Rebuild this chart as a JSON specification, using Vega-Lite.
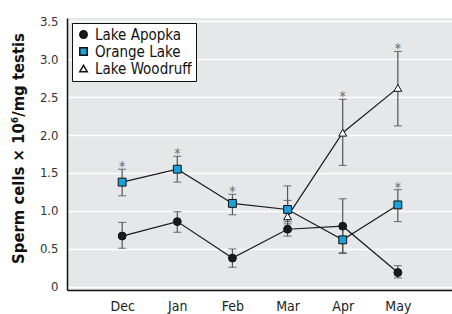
{
  "$schema": "https://vega.github.io/schema/vega-lite/v6.json",
  "autosize": {"type": "none"},
  "padding": {"left": 67, "top": 18, "right": 0, "bottom": 24},
  "width": 386,
  "height": 272,
  "config": {
    "view": {"fill": "#e6e7e8", "stroke": null},
    "font": "Liberation Sans Narrow, DejaVu Sans Condensed, sans-serif",
    "axisY": {
      "titleFontSize": 16.5, "titleFontWeight": "bold", "titleColor": "#111", "titlePadding": 13,
      "titleY": 130,
      "labelOverlap": false, "labelFontSize": 13, "labelColor": "#333", "labelPadding": 9,
      "ticks": false, "tickSize": 0,
      "domainColor": "#111", "domainWidth": 1.5,
      "gridColor": "white", "gridWidth": 1.5
    }
  },
  "data": {
    "values": [
      {"lake": "Lake Apopka", "month": "Dec", "mean": 0.67, "lo": 0.51, "hi": 0.85, "sig": false},
      {"lake": "Lake Apopka", "month": "Jan", "mean": 0.86, "lo": 0.72, "hi": 0.99, "sig": false},
      {"lake": "Lake Apopka", "month": "Feb", "mean": 0.38, "lo": 0.26, "hi": 0.50, "sig": false},
      {"lake": "Lake Apopka", "month": "Mar", "mean": 0.76, "lo": 0.67, "hi": 0.83, "sig": false},
      {"lake": "Lake Apopka", "month": "Apr", "mean": 0.80, "lo": 0.45, "hi": 1.16, "sig": false},
      {"lake": "Lake Apopka", "month": "May", "mean": 0.19, "lo": 0.12, "hi": 0.28, "sig": false},
      {"lake": "Orange Lake", "month": "Dec", "mean": 1.38, "lo": 1.20, "hi": 1.55, "sig": true},
      {"lake": "Orange Lake", "month": "Jan", "mean": 1.55, "lo": 1.38, "hi": 1.72, "sig": true},
      {"lake": "Orange Lake", "month": "Feb", "mean": 1.10, "lo": 0.95, "hi": 1.22, "sig": true},
      {"lake": "Orange Lake", "month": "Mar", "mean": 1.02, "lo": 0.73, "hi": 1.33, "sig": false},
      {"lake": "Orange Lake", "month": "Apr", "mean": 0.62, "lo": 0.44, "hi": 0.80, "sig": false},
      {"lake": "Orange Lake", "month": "May", "mean": 1.08, "lo": 0.86, "hi": 1.28, "sig": true},
      {"lake": "Lake Woodruff", "month": "Mar", "mean": 0.93, "lo": 0.86, "hi": 1.14, "sig": false},
      {"lake": "Lake Woodruff", "month": "Apr", "mean": 2.03, "lo": 1.60, "hi": 2.47, "sig": true},
      {"lake": "Lake Woodruff", "month": "May", "mean": 2.62, "lo": 2.12, "hi": 3.10, "sig": true}
    ]
  },
  "encoding": {
    "x": {
      "field": "month", "type": "ordinal",
      "scale": {"type": "point", "domain": ["Dec", "Jan", "Feb", "Mar", "Apr", "May"], "padding": 1},
      "axis": {
        "title": null, "labelAngle": 0, "ticks": false, "tickSize": 0, "labelPadding": 9,
        "labelFontSize": 14, "labelColor": "#222", "domainColor": "#111", "domainWidth": 1.5, "grid": false
      }
    }
  },
  "layer": [
    {
      "mark": {"type": "line", "color": "#1a1a1a", "strokeWidth": 1.2},
      "encoding": {
        "y": {
          "field": "mean", "type": "quantitative",
          "scale": {"domain": [-0.04, 3.54], "nice": false, "zero": false},
          "axis": {
            "title": "Sperm cells × 10⁶/mg testis",
            "values": [0, 0.5, 1, 1.5, 2, 2.5, 3, 3.5],
            "labelExpr": "datum.value == 0 ? '0' : format(datum.value, '.1f')"
          }
        },
        "detail": {"field": "lake"}
      }
    },
    {
      "mark": {"type": "errorbar", "ticks": {"size": 8, "color": "#333", "strokeWidth": 1.3}, "rule": {"color": "#555", "strokeWidth": 1.2}},
      "encoding": {
        "y": {
          "field": "lo", "type": "quantitative",
          "axis": {
            "title": "Sperm cells × 10⁶/mg testis",
            "values": [0, 0.5, 1, 1.5, 2, 2.5, 3, 3.5],
            "labelExpr": "datum.value == 0 ? '0' : format(datum.value, '.1f')"
          }
        },
        "y2": {"field": "hi"}
      }
    },
    {
      "mark": {"type": "point", "filled": true, "stroke": "#111", "strokeWidth": 1, "opacity": 1},
      "encoding": {
        "y": {
          "field": "mean", "type": "quantitative",
          "axis": {
            "title": "Sperm cells × 10⁶/mg testis",
            "values": [0, 0.5, 1, 1.5, 2, 2.5, 3, 3.5],
            "labelExpr": "datum.value == 0 ? '0' : format(datum.value, '.1f')"
          }
        },
        "shape": {
          "field": "lake", "type": "nominal",
          "scale": {"domain": ["Lake Apopka", "Orange Lake", "Lake Woodruff"], "range": ["circle", "square", "triangle-up"]},
          "legend": {
            "title": null, "orient": "top-left", "offset": 5, "padding": 4,
            "fillColor": "white", "strokeColor": "#111",
            "labelFontSize": 15, "labelColor": "#111", "symbolSize": 55, "rowPadding": 1,
            "encode": {"symbols": {"update": {"stroke": {"value": "#111"}, "strokeWidth": {"value": 1}}}}
          }
        },
        "fill": {
          "field": "lake", "type": "nominal",
          "scale": {"domain": ["Lake Apopka", "Orange Lake", "Lake Woodruff"], "range": ["#1a1a1a", "#1ba1dc", "white"]},
          "legend": {
            "title": null, "orient": "top-left", "offset": 5, "padding": 4,
            "fillColor": "white", "strokeColor": "#111",
            "labelFontSize": 15, "labelColor": "#111", "symbolSize": 55, "rowPadding": 1,
            "encode": {"symbols": {"update": {"stroke": {"value": "#111"}, "strokeWidth": {"value": 1}}}}
          }
        },
        "size": {"value": 62}
      }
    },
    {
      "transform": [{"filter": "datum.sig"}],
      "mark": {"type": "text", "text": "*", "fontSize": 14, "color": "#666", "dy": -2, "baseline": "middle"},
      "encoding": {
        "y": {
          "field": "hi", "type": "quantitative",
          "axis": {
            "title": "Sperm cells × 10⁶/mg testis",
            "values": [0, 0.5, 1, 1.5, 2, 2.5, 3, 3.5],
            "labelExpr": "datum.value == 0 ? '0' : format(datum.value, '.1f')"
          }
        }
      }
    }
  ]
}
